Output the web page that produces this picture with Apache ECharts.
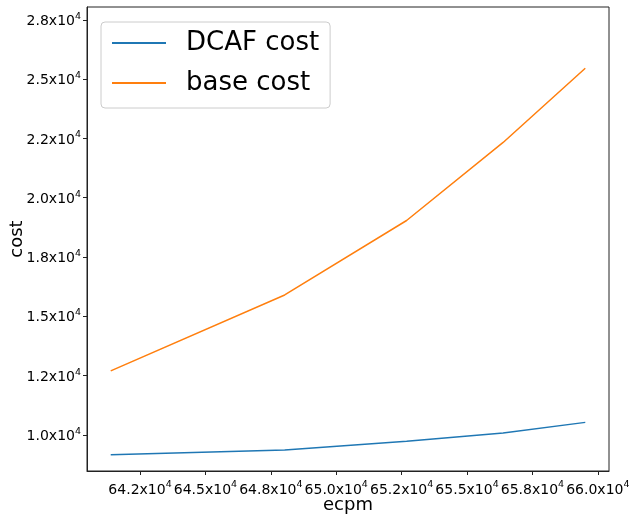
<!DOCTYPE html>
<html>
<head>
<meta charset="utf-8">
<script src="https://cdn.jsdelivr.net/npm/echarts@6/dist/echarts.min.js"></script>
<style>
html,body{margin:0;padding:0;background:#fff;}
#chart{width:629px;height:516px;}
</style>
</head>
<body>
<div id="chart"></div>
<script>
// Data
const ecpm = [641380, 648030, 652690, 656380, 659520];
const dcafCost = [9160, 9370, 9730, 10080, 10530];
const baseCost = [12700, 15900, 19040, 22330, 25460];
const seriesNames = ['DCAF cost', 'base cost'];

// Tick values (labels are value / 1e4 with one decimal, "x10^4")
const xTicks = [642500, 645000, 647500, 650000, 652500, 655000, 657500, 660000];
const yTicks = [10000, 12500, 15000, 17500, 20000, 22500, 25000, 27500];

function halfEven1(v) {
  const s = v / 1e4 * 10;
  const f = Math.floor(s + 1e-9);
  const d = s - f;
  let n;
  if (Math.abs(d - 0.5) < 1e-7) n = (f % 2 === 0) ? f : f + 1;
  else n = Math.round(s);
  return (n / 10).toFixed(1);
}
function tickFmt(v) {
  return '{b|' + halfEven1(v) + 'x10}{s|4}';
}

const FONT = 'DejaVu Sans';
const rich = {
  b: { fontSize: 14, fontFamily: FONT, color: '#000', lineHeight: 17, verticalAlign: 'bottom' },
  s: { fontSize: 9.5, fontFamily: FONT, color: '#000', lineHeight: 17, verticalAlign: 'top' }
};

const chart = echarts.init(document.getElementById('chart'), null, { renderer: 'canvas' });
chart.setOption({
  animation: false,
  backgroundColor: '#fff',
  grid: {
    left: 87, right: 20, top: 7, bottom: 45,
    outerBoundsMode: 'none',
    containLabel: false,
    show: true, borderColor: '#222', borderWidth: 1, backgroundColor: 'transparent'
  },
  legend: {
    left: 101, top: 22,
    orient: 'vertical',
    data: seriesNames,
    itemWidth: 54, itemHeight: 26, itemGap: 14,
    padding: [8, 11, 12, 10],
    borderColor: '#cccccc', borderWidth: 1, borderRadius: 4,
    backgroundColor: 'rgba(255,255,255,0.8)',
    itemStyle: { opacity: 0, color: 'transparent', borderColor: 'transparent', borderWidth: 0 },
    textStyle: { fontFamily: FONT, fontSize: 26, color: '#000', padding: [0, 0, 0, 15] }
  },
  xAxis: {
    type: 'value',
    min: 640473, max: 660427,
    name: 'ecpm', nameLocation: 'middle', nameGap: 25, nameMoveOverlap: false,
    nameTextStyle: { fontFamily: FONT, fontSize: 18, color: '#000' },
    splitLine: { show: false },
    axisLine: { show: true, lineStyle: { color: '#222', width: 1 } },
    axisTick: { show: true, inside: false, length: 4, customValues: xTicks, lineStyle: { color: '#222' } },
    axisLabel: { customValues: xTicks, margin: 9, formatter: tickFmt, rich: rich, hideOverlap: false }
  },
  yAxis: {
    type: 'value',
    min: 8480, max: 28040,
    name: 'cost', nameLocation: 'middle', nameGap: 61, nameRotate: 90, nameMoveOverlap: false,
    nameTextStyle: { fontFamily: FONT, fontSize: 18, color: '#000' },
    splitLine: { show: false },
    axisLine: { show: true, lineStyle: { color: '#222', width: 1 } },
    axisTick: { show: true, inside: false, length: 4, customValues: yTicks, lineStyle: { color: '#222' } },
    axisLabel: { customValues: yTicks, margin: 6, formatter: tickFmt, rich: rich, hideOverlap: false }
  },
  series: [
    {
      name: seriesNames[0], type: 'line', symbol: 'none',
      data: ecpm.map((x, i) => [x, dcafCost[i]]),
      lineStyle: { color: '#1f77b4', width: 1.5 }, itemStyle: { color: '#1f77b4' }
    },
    {
      name: seriesNames[1], type: 'line', symbol: 'none',
      data: ecpm.map((x, i) => [x, baseCost[i]]),
      lineStyle: { color: '#ff7f0e', width: 1.5 }, itemStyle: { color: '#ff7f0e' }
    }
  ]
});
</script>
</body>
</html>
